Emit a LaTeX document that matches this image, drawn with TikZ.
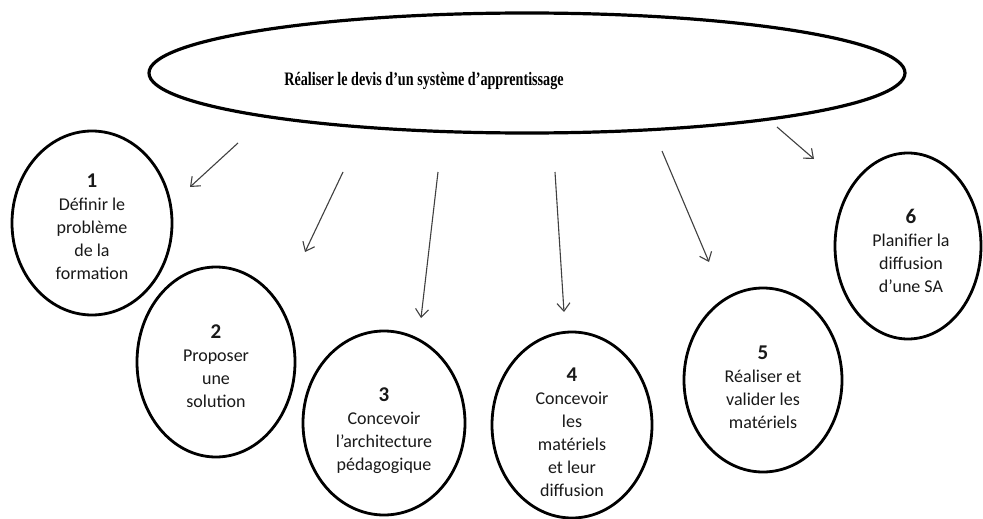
\documentclass[tikz,border=0pt]{standalone}
\usepackage{fontspec}
\setmainfont{Carlito}
\newfontfamily\titlefont{Liberation Serif}
\usetikzlibrary{shapes.geometric,arrows.meta}
\newcommand{\stepnum}[1]{{\fontsize{21}{23}\selectfont\textbf{#1}}}
\begin{document}
\begin{tikzpicture}[x=1pt,y=-1pt,
  bubble/.style={draw=black, ellipse, line width=2.8pt, inner sep=0pt},
  btext/.style={align=center, text=black!90, font=\fontsize{18}{23}\selectfont},
  link/.style={draw=black!75, line width=1.1pt, -{Straight Barb[length=8pt,width=13pt]}}]
\useasboundingbox (0,0) rectangle (983,519);
\fill[white] (0,0) rectangle (983,519);

% main ellipse
\node[bubble, line width=3.2pt, minimum width=756pt, minimum height=120pt] (main) at (527,73) {};
\node[font=\titlefont\bfseries\fontsize{19}{22}\selectfont] (title) at (424,81)
  {\scalebox{0.745}[1]{Réaliser le devis d’un système d’apprentissage}};

% circles
\node[bubble, minimum width=160pt, minimum height=184pt] (c1) at (92,223) {};
\node[btext] (t1) at (92,227) {\stepnum{1}\\Définir le\\problème\\de la\\formation};

\node[bubble, minimum width=158pt, minimum height=190pt] (c2) at (216,362) {};
\node[btext] (t2) at (216,366) {\stepnum{2}\\Proposer\\une\\solution};

\node[bubble, minimum width=162pt, minimum height=184pt] (c3) at (384,423) {};
\node[btext] (t3) at (384,431) {\stepnum{3}\\Concevoir\\l’architecture\\pédagogique};

\node[bubble, minimum width=160pt, minimum height=186pt] (c4) at (572,425) {};
\node[btext] (t4) at (572,432) {\stepnum{4}\\Concevoir\\les\\matériels\\et leur\\diffusion};

\node[bubble, minimum width=158pt, minimum height=184pt] (c5) at (763,380) {};
\node[btext] (t5) at (763,387) {\stepnum{5}\\Réaliser et\\valider les\\matériels};

\node[bubble, minimum width=146pt, minimum height=186pt] (c6) at (908,246) {};
\node[btext] (t6) at (911,251) {\stepnum{6}\\Planifier la\\diffusion\\d’une SA};

% arrow ends
\coordinate (a1s) at (238,143); \coordinate (a1e) at (190,187);
\coordinate (a2s) at (343,172); \coordinate (a2e) at (305,252);
\coordinate (a3s) at (438,172); \coordinate (a3e) at (421,318);
\coordinate (a4s) at (555,172); \coordinate (a4e) at (564,312);
\coordinate (a5s) at (662,151); \coordinate (a5e) at (709,262);
\coordinate (a6s) at (777,127); \coordinate (a6e) at (814,159);

\draw[link] (a1s) -- (a1e);
\draw[link] (a2s) -- (a2e);
\draw[link] (a3s) -- (a3e);
\draw[link] (a4s) -- (a4e);
\draw[link] (a5s) -- (a5e);
\draw[link] (a6s) -- (a6e);
\end{tikzpicture}
\end{document}
